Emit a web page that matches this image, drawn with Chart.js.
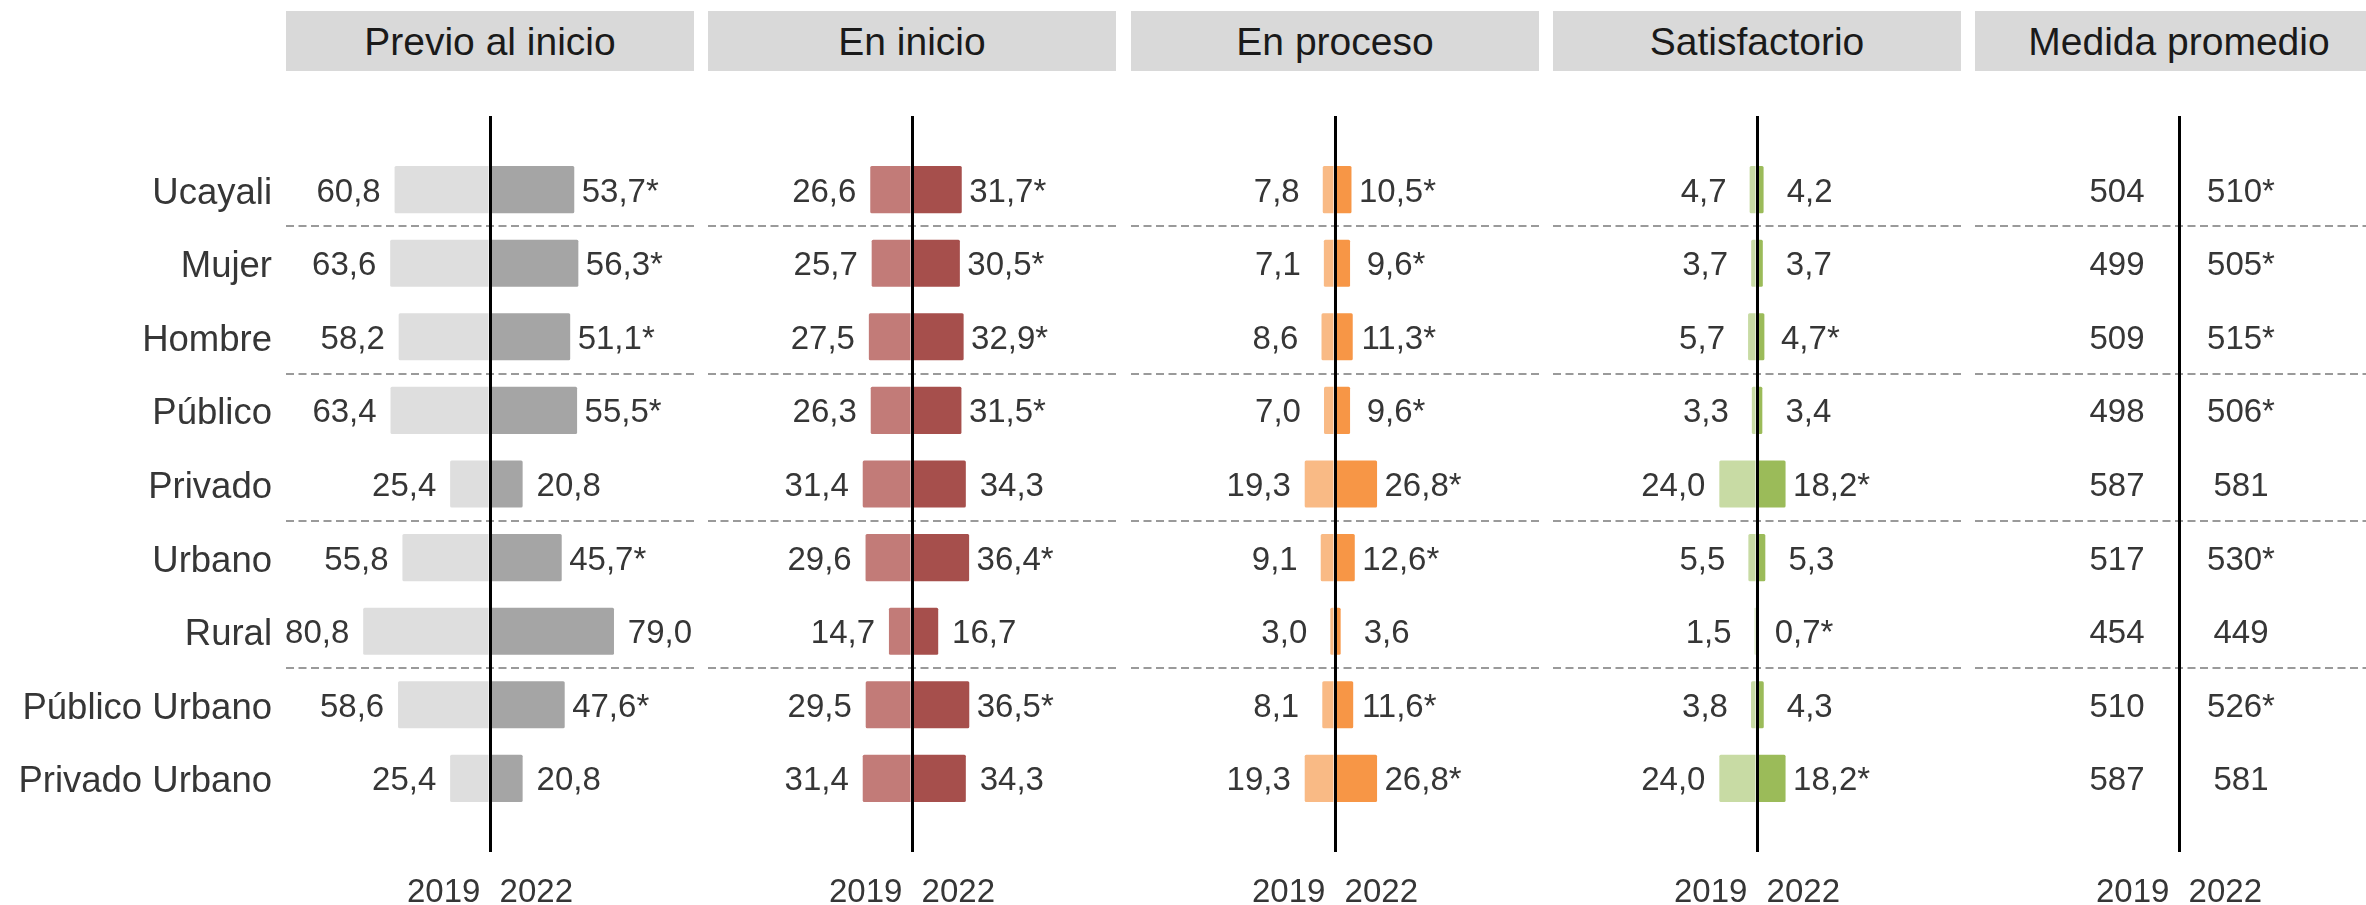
<!DOCTYPE html>
<html lang="es">
<head>
<meta charset="utf-8">
<script src="https://cdn.jsdelivr.net/npm/chart.js@4.4.1/dist/chart.umd.min.js"></script>
<style>
  html, body { margin: 0; padding: 0; background: #fff; overflow: hidden; }
  body { width: 2366px; height: 905px; position: relative; font-family: "Liberation Sans", Arial, sans-serif; }
  .cabecera { position: absolute; top: 11px; height: 60px; line-height: 62px; background: #d9d9d9; color: #1a1a1a;
              font-size: 39px; text-align: center; white-space: nowrap; }
  canvas { position: absolute; top: 0; }
</style>
</head>
<body>
<script>
// Datos (2019 vs 2022)
const filas = ['Ucayali', 'Mujer', 'Hombre', 'Público', 'Privado', 'Urbano', 'Rural', 'Público Urbano', 'Privado Urbano'];
const anios = ['2019', '2022'];
// separadores punteados despues de estas filas
const separadores = [0, 2, 4, 6];

const previo2019 = [60.8, 63.6, 58.2, 63.4, 25.4, 55.8, 80.8, 58.6, 25.4];
const previo2022 = [53.7, 56.3, 51.1, 55.5, 20.8, 45.7, 79.0, 47.6, 20.8];
const previoSig  = [1, 1, 1, 1, 0, 1, 0, 1, 0];

const inicio2019 = [26.6, 25.7, 27.5, 26.3, 31.4, 29.6, 14.7, 29.5, 31.4];
const inicio2022 = [31.7, 30.5, 32.9, 31.5, 34.3, 36.4, 16.7, 36.5, 34.3];
const inicioSig  = [1, 1, 1, 1, 0, 1, 0, 1, 0];

const proceso2019 = [7.8, 7.1, 8.6, 7.0, 19.3, 9.1, 3.0, 8.1, 19.3];
const proceso2022 = [10.5, 9.6, 11.3, 9.6, 26.8, 12.6, 3.6, 11.6, 26.8];
const procesoSig  = [1, 1, 1, 1, 1, 1, 0, 1, 1];

const satisf2019 = [4.7, 3.7, 5.7, 3.3, 24.0, 5.5, 1.5, 3.8, 24.0];
const satisf2022 = [4.2, 3.7, 4.7, 3.4, 18.2, 5.3, 0.7, 4.3, 18.2];
const satisfSig  = [0, 0, 1, 0, 1, 0, 1, 0, 1];

const medida2019 = [504, 499, 509, 498, 587, 517, 454, 510, 587];
const medida2022 = [510, 505, 515, 506, 581, 530, 449, 526, 581];
const medidaSig  = [1, 1, 1, 1, 0, 1, 0, 1, 0];

const paneles = [
    { titulo: 'Previo al inicio', v1: previo2019, v2: previo2022, sig: previoSig, colores: ['#dedede', '#a5a5a5'] },
    { titulo: 'En inicio', v1: inicio2019, v2: inicio2022, sig: inicioSig, colores: ['#c27b78', '#a64f4c'] },
    { titulo: 'En proceso', v1: proceso2019, v2: proceso2022, sig: procesoSig, colores: ['#f9ba85', '#f79646'] },
    { titulo: 'Satisfactorio', v1: satisf2019, v2: satisf2022, sig: satisfSig, colores: ['#c8dba4', '#9bbb59'] },
    { titulo: 'Medida promedio', v1: medida2019, v2: medida2022, sig: medidaSig, colores: null }
];

const FUENTE = '"Liberation Sans", Arial, sans-serif';
const TEXTO = '#363636';

const fmt = (v, entero) => entero ? String(v) : v.toFixed(1).replace('.', ',');

// etiquetas de valor al final de cada barra
const pluginEtiquetas = {
    id: 'etiquetas',
    afterDatasetsDraw(chart, args, opts) {
        const ctx = chart.ctx;
        const x0 = chart.scales.x.getPixelForValue(0);
        ctx.save();
        ctx.font = '33px ' + FUENTE;
        ctx.fillStyle = TEXTO;
        ctx.textAlign = 'center';
        ctx.textBaseline = 'middle';
        chart.data.datasets.forEach((ds, d) => {
            const signo = d === 0 ? -1 : 1;
            chart.getDatasetMeta(d).data.forEach((barra, i) => {
                const t = ds.textos[i];
                if (!t) return;
                const xFin = opts.fijo ? x0 : barra.x;
                ctx.fillText(t, xFin + signo * opts.desplazamiento, barra.y + 3);
            });
        });
        ctx.restore();
    }
};

function crearPanel(p, k) {
    const centro = 490 + k * 422.25;
    const primero = k === 0;
    const izqPanel = Math.round(centro - 204);
    const izq = primero ? 0 : izqPanel;
    const ancho = izqPanel + 408 - izq;
    const conBarras = !!p.colores;

    const cab = document.createElement('div');
    cab.className = 'cabecera';
    cab.style.left = izqPanel + 'px';
    cab.style.width = '408px';
    cab.textContent = p.titulo;
    document.body.appendChild(cab);

    const canvas = document.createElement('canvas');
    canvas.width = ancho;
    canvas.height = 905;
    canvas.style.left = izq + 'px';
    document.body.appendChild(canvas);

    const lineasPunteadas = separadores.map(s => s + 2);

    new Chart(canvas, {
        type: 'bar',
        data: {
            labels: ['', ...filas, ''],
            datasets: [
                {
                    label: anios[0],
                    data: [null, ...p.v1.map(v => conBarras ? -v : 0), null],
                    backgroundColor: conBarras ? p.colores[0] : 'transparent',
                    textos: [null, ...p.v1.map(v => fmt(v, !conBarras)), null]
                },
                {
                    label: anios[1],
                    data: [null, ...p.v2.map(v => conBarras ? v : 0), null],
                    backgroundColor: conBarras ? p.colores[1] : 'transparent',
                    textos: [null, ...p.v2.map((v, i) => fmt(v, !conBarras) + (p.sig[i] ? '*' : '')), null]
                }
            ]
        },
        options: {
            indexAxis: 'y',
            responsive: false,
            animation: false,
            devicePixelRatio: 1,
            layout: { padding: { top: 116, left: 0, right: 0, bottom: 0 } },
            datasets: { bar: { categoryPercentage: 1, barPercentage: 0.64, borderRadius: 1.5, borderSkipped: 'start' } },
            plugins: {
                legend: { display: false },
                tooltip: { enabled: false },
                etiquetas: { desplazamiento: conBarras ? 46 : 62, fijo: !conBarras }
            },
            scales: {
                x: {
                    min: -130,
                    max: 130,
                    stacked: true,
                    afterBuildTicks: s => { s.ticks = [{ value: -29.5 }, { value: 0 }, { value: 29.5 }]; },
                    afterFit: s => { s.height = 53; },
                    ticks: {
                        callback: v => v < 0 ? anios[0] : (v > 0 ? anios[1] : ''),
                        font: { size: 33, family: FUENTE },
                        color: TEXTO,
                        padding: 21,
                        maxRotation: 0,
                        autoSkip: false
                    },
                    grid: {
                        color: c => (c.tick && c.tick.value === 0) ? '#000' : 'transparent',
                        lineWidth: 3,
                        drawTicks: false,
                        z: 1
                    },
                    border: { display: false }
                },
                y: {
                    stacked: true,
                    offset: false,
                    afterFit: s => { s.width = primero ? 286 : 0; },
                    ticks: {
                        display: primero,
                        font: { size: 36.5, family: FUENTE },
                        color: TEXTO,
                        padding: 14,
                        labelOffset: 4,
                        autoSkip: false
                    },
                    grid: {
                        offset: true,
                        drawTicks: false,
                        color: c => lineasPunteadas.includes(c.index) ? '#9a9a9a' : 'transparent',
                        lineWidth: 2
                    },
                    border: { display: false, dash: [8, 4.5] }
                }
            }
        },
        plugins: [pluginEtiquetas]
    });
}

paneles.forEach(crearPanel);
</script>
</body>
</html>
